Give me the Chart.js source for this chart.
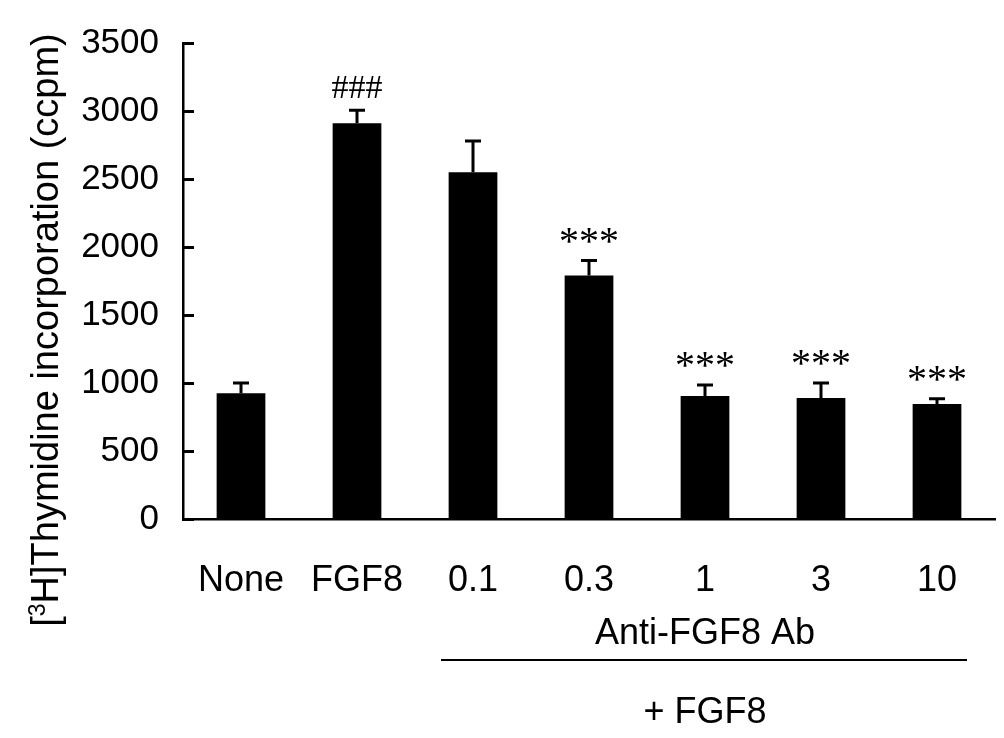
<!DOCTYPE html>
<html>
<head>
<meta charset="utf-8">
<script src="https://cdn.jsdelivr.net/npm/chart.js@4"></script>
<style>
  html, body { margin: 0; padding: 0; background: #fff; }
  #wrap { width: 1004px; height: 738px; }
</style>
</head>
<body>
<div id="wrap"><canvas id="thyChart" width="1004" height="738"></canvas></div>
<script>
// data
const categories = ["None", "FGF8", "0.1", "0.3", "1", "3", "10"];
const means = [925, 2910, 2550, 1790, 905, 890, 845];
const errors = [75, 95, 230, 110, 80, 110, 40];
const marks = ["", "###", "", "***", "***", "***", "***"];
const yTicks = [0, 500, 1000, 1500, 2000, 2500, 3000, 3500];

const sansFont = "'Liberation Sans', Arial, sans-serif";
const serifFont = "'Liberation Serif', 'Times New Roman', serif";

// inward y ticks, error bars, significance marks, bottom labels, axis title
const extrasPlugin = {
    id: "extras",
    afterDraw(chart) {
        const ctx = chart.ctx;
        const y = chart.scales.y;
        const meta = chart.getDatasetMeta(0);
        const axisX = y.right;

        ctx.save();
        ctx.strokeStyle = "#000";
        ctx.fillStyle = "#000";

        // y ticks pointing into the plot
        ctx.lineWidth = 3;
        ctx.lineCap = "butt";
        yTicks.forEach(v => {
            const py = Math.round(y.getPixelForValue(v)) + 0.5;
            ctx.beginPath();
            ctx.moveTo(axisX - 1, py);
            ctx.lineTo(axisX + 11, py);
            ctx.stroke();
        });

        // error bars (upper only)
        meta.data.forEach((bar, i) => {
            const top = y.getPixelForValue(means[i] + errors[i]);
            ctx.beginPath();
            ctx.moveTo(bar.x, bar.y);
            ctx.lineTo(bar.x, top);
            ctx.moveTo(bar.x - 8, top);
            ctx.lineTo(bar.x + 8, top);
            ctx.stroke();

            if (marks[i]) {
                ctx.textAlign = "center";
                ctx.textBaseline = "alphabetic";
                if (marks[i] === "###") {
                    ctx.font = "34px " + serifFont;
                    ctx.fillText(marks[i], bar.x, top - 12);
                } else {
                    ctx.font = "40px " + serifFont;
                    ctx.fillText(marks[i], bar.x, top - 7);
                }
            }
        });

        // bracket label under the antibody doses
        const first = meta.data[2].x;
        const last = meta.data[6].x;
        const mid = (meta.data[3].x + meta.data[5].x) / 2;
        ctx.font = "36px " + sansFont;
        ctx.textAlign = "center";
        ctx.textBaseline = "middle";
        ctx.fillText("Anti-FGF8 Ab", mid, 634);
        ctx.lineWidth = 2;
        ctx.beginPath();
        ctx.moveTo(first - 32, 660);
        ctx.lineTo(last + 30, 660);
        ctx.stroke();
        ctx.fillText("+ FGF8", mid, 713);

        // y axis title with superscript
        ctx.translate(48, 330);
        ctx.rotate(-Math.PI / 2);
        const p1 = "[", sup = "3", p2 = "H]Thymidine incorporation (ccpm)";
        const big = "38px " + sansFont, small = "23px " + sansFont;
        ctx.font = big;
        const w1 = ctx.measureText(p1).width;
        const w3 = ctx.measureText(p2).width;
        ctx.font = small;
        const w2 = ctx.measureText(sup).width;
        let sx = -(w1 + w2 + w3) / 2;
        ctx.textAlign = "left";
        ctx.textBaseline = "middle";
        ctx.font = big;
        ctx.fillText(p1, sx, 0);
        sx += w1;
        ctx.font = small;
        ctx.fillText(sup, sx, -9);
        sx += w2;
        ctx.font = big;
        ctx.fillText(p2, sx, 0);

        ctx.restore();
    }
};

new Chart(document.getElementById("thyChart").getContext("2d"), {
    type: "bar",
    data: {
        labels: categories,
        datasets: [{
            data: means,
            backgroundColor: "#000",
            borderWidth: 0,
            categoryPercentage: 1,
            barPercentage: 0.42
        }]
    },
    options: {
        responsive: false,
        animation: false,
        events: [],
        layout: { padding: { top: 43, right: 9, left: 0, bottom: 0 } },
        plugins: {
            legend: { display: false },
            tooltip: { enabled: false }
        },
        scales: {
            x: {
                grid: { display: false },
                border: { display: true, color: "#000", width: 2.5 },
                ticks: {
                    color: "#000",
                    font: { family: sansFont, size: 36 },
                    padding: 32
                },
                afterFit(scale) { scale.height = 219; }
            },
            y: {
                min: 0,
                max: 3500,
                afterBuildTicks(scale) { scale.ticks = yTicks.map(v => ({ value: v })); },
                grid: { display: false },
                border: { display: true, color: "#000", width: 2.5 },
                ticks: {
                    color: "#000",
                    font: { family: sansFont, size: 35 },
                    padding: 16,
                    callback: v => String(v)
                },
                afterFit(scale) { scale.width = 183; }
            }
        }
    },
    plugins: [extrasPlugin]
});
</script>
</body>
</html>
